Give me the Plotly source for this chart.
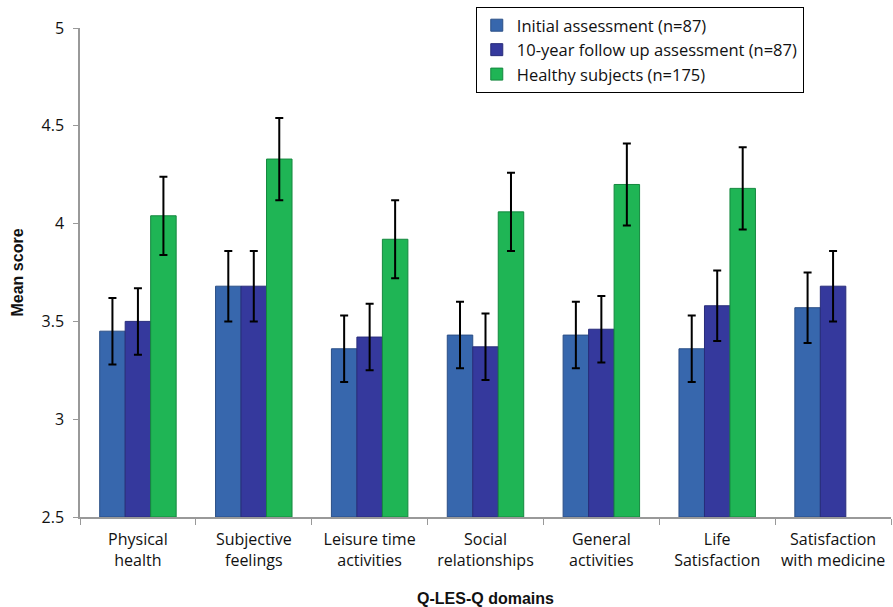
import plotly.graph_objects as go

# Q-LES-Q domain means with standard-deviation style error bars
domains = ["Physical<br>health", "Subjective<br>feelings", "Leisure time<br>activities",
           "Social<br>relationships", "General<br>activities", "Life<br>Satisfaction",
           "Satisfaction<br>with medicine"]

initial_mean = [3.45, 3.68, 3.36, 3.43, 3.43, 3.36, 3.57]
initial_err = [0.17, 0.18, 0.17, 0.17, 0.17, 0.17, 0.18]

followup_mean = [3.50, 3.68, 3.42, 3.37, 3.46, 3.58, 3.68]
followup_err = [0.17, 0.18, 0.17, 0.17, 0.17, 0.18, 0.18]

healthy_mean = [4.04, 4.33, 3.92, 4.06, 4.20, 4.18, None]
healthy_err = [0.20, 0.21, 0.20, 0.20, 0.21, 0.21, None]

series_names = ["Initial assessment (n=87)", "10-year follow up assessment (n=87)",
                "Healthy subjects (n=175)"]
series_colors = ["#3767ad", "#35399d", "#1fb555"]
series_lines = ["#2b4f86", "#282c7a", "#15883f"]

y_ticks = [2.5, 3, 3.5, 4, 4.5, 5]

fig = go.Figure()
for name, means, errs, color, lcol in zip(
        series_names,
        [initial_mean, followup_mean, healthy_mean],
        [initial_err, followup_err, healthy_err],
        series_colors, series_lines):
    fig.add_trace(go.Bar(
        name=name, x=domains, y=[m - 2.5 if m is not None else None for m in means],
        base=2.5,
        marker=dict(color=color, line=dict(color=lcol, width=1)),
        error_y=dict(type="data", array=errs, color="black", thickness=2, width=4),
    ))

font_family = "Open Sans, Liberation Sans, sans-serif"
title_font = dict(family="Liberation Sans, Arial", size=16, color="#111")
fig.update_layout(
    width=893, height=607,
    margin=dict(l=80, r=2, t=28, b=90),
    plot_bgcolor="white", paper_bgcolor="white",
    barmode="group", bargap=0.34, bargroupgap=0,
    font=dict(family=font_family, size=16, color="#111"),
    showlegend=True,
    legend=dict(x=0.488, y=1.043, xanchor="left", yanchor="top",
                bordercolor="black", borderwidth=1, bgcolor="white",
                font=dict(size=16.5, family=font_family), tracegroupgap=0,
                itemwidth=30),
    xaxis=dict(showline=True, linecolor="#999", linewidth=1.5,
               ticks="outside", tickson="boundaries", ticklen=6, tickcolor="#999",
               tickfont=dict(size=16), ticklabelstandoff=7,
               title=dict(text="<b>Q-LES-Q domains</b>", font=title_font,
                          standoff=24)),
    yaxis=dict(range=[2.5, 5], tickvals=y_ticks, ticktext=[str(t) for t in y_ticks],
               showline=True, linecolor="#999", linewidth=1.5, showgrid=False,
               ticks="outside", ticklen=5, tickcolor="#999", zeroline=False,
               tickfont=dict(size=16), ticklabelstandoff=6,
               title=dict(text="<b>Mean score</b>", font=title_font,
                          standoff=14)),
)

fig.write_html("out.html")
